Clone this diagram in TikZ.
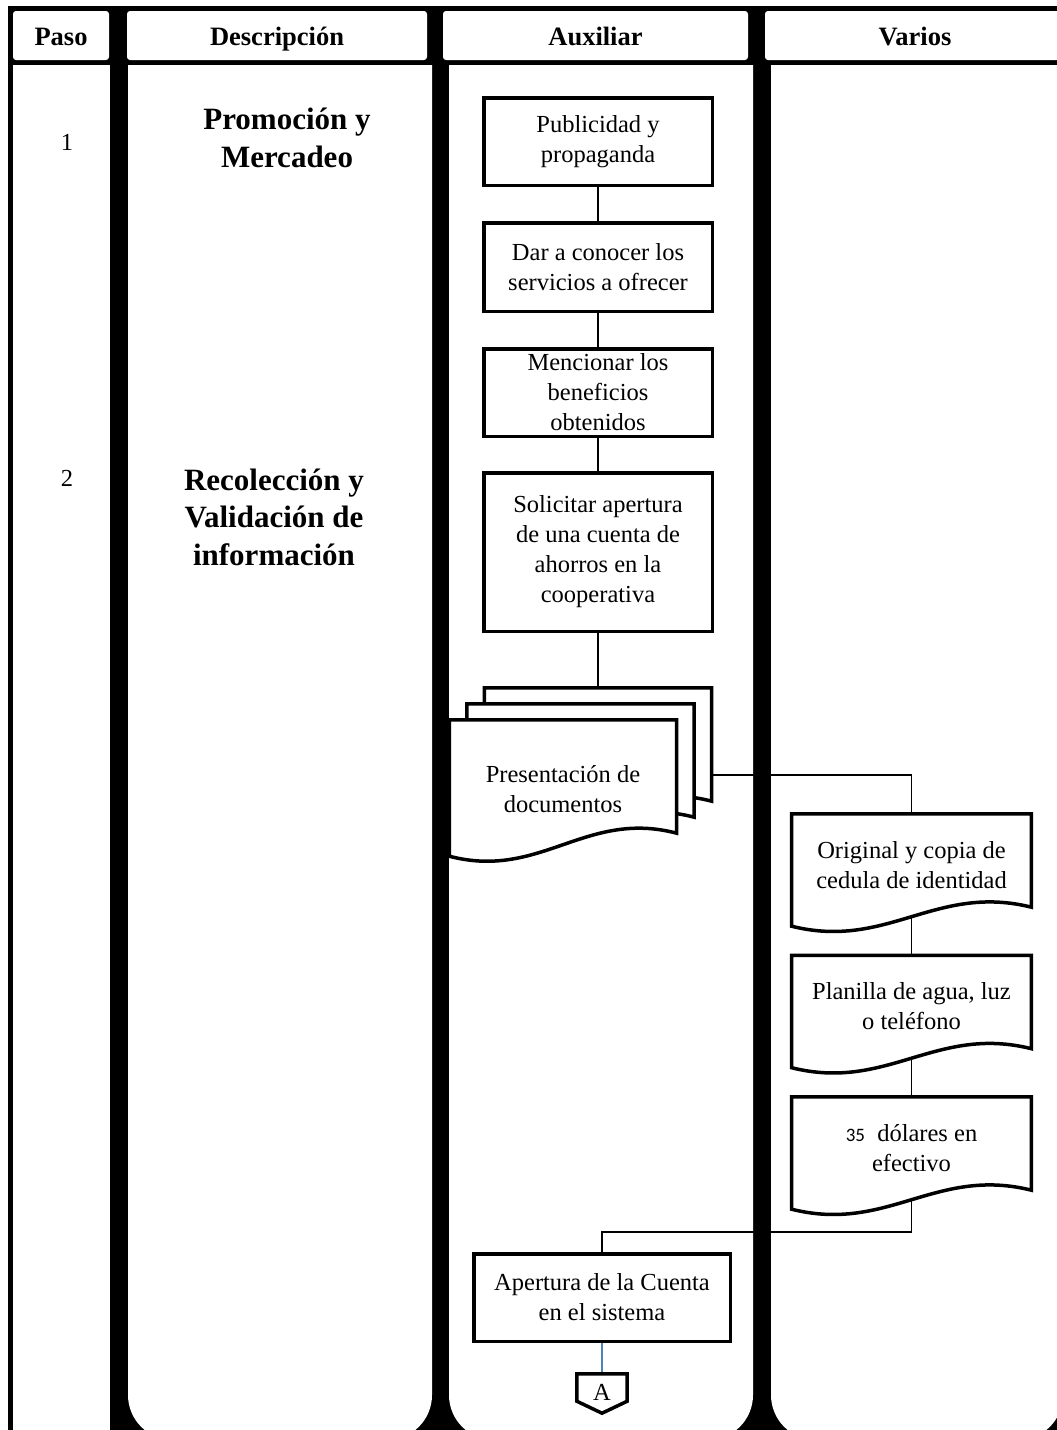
\documentclass[tikz,border=0pt]{standalone}
\usepackage{fontspec}
\setmainfont{Liberation Serif}
\newfontfamily\calibrifont{Carlito}
\usepackage{tikz}
\usetikzlibrary{
  calc,
  positioning
}
\definecolor{linkBlue}{HTML}{4F81BD}

\pgfdeclarelayer{lanes}
\pgfdeclarelayer{edges}
\pgfdeclarelayer{shapes}
\pgfsetlayers{lanes,edges,shapes,main}

% document outline around a node: #2 node, #3 rise of right end, #4 drop of left end
\newcommand{\docwave}[4][]{%
  \begin{pgfonlayer}{shapes}
    \draw[docline,#1] (#2.north west) -- (#2.north east) -- ($(#2.south east)+(0,-#3)$)
      .. controls ($(#2.south east)!0.4!(#2.south west)+(0,-#3-24)$)
      and ($(#2.south east)!0.6!(#2.south west)+(0,#4+24)$) .. ($(#2.south west)+(0,#4)$) -- cycle;
  \end{pgfonlayer}}

\tikzset{
  lanehead/.style={fill=white, rounded corners=3pt, minimum height=49pt, inner sep=0pt,
    text height=21pt, text depth=2pt, font=\bfseries\fontsize{26.5}{30}\selectfont},
  stepnum/.style={font=\fontsize{24.5}{30}\selectfont},
  stage/.style={align=center, inner sep=0pt, font=\bfseries\fontsize{31}{37.5}\selectfont},
  procbox/.style={draw, line width=3.5pt, fill=white, align=center, inner sep=0pt,
    minimum width=228.5pt, font=\fontsize{24.5}{30}\selectfont},
  docnode/.style={align=center, inner sep=0pt, minimum width=239.5pt, minimum height=102pt,
    font=\fontsize{24.5}{30}\selectfont},
  docline/.style={line width=3.5pt, fill=white},
  offpage/.style={minimum width=50pt, minimum height=27pt, inner sep=0pt, text height=26pt,
    font=\fontsize{24.5}{30}\selectfont},
  conn/.style={line width=1.2pt}
}

\begin{document}
\begin{tikzpicture}[x=1pt, y=-1pt]
  \useasboundingbox (0,0) rectangle (1057,1430);

  % lanes
  \begin{pgfonlayer}{lanes}
    \clip (0,0) rectangle (1057,1430);
    \fill[black] (8,6) rectangle (1057,1430);
    \fill[white] (13,65) rectangle (110,1430);
    \begin{scope}
      \clip (0,65) rectangle (1070,1430);
      \foreach \xa/\xb in {128/432, 449/753, 771/1063}
        \fill[white, rounded corners=45pt] (\xa,20) rectangle (\xb,1440);
    \end{scope}
  \end{pgfonlayer}

  \foreach \x/\w/\nm/\txt in {13/96/paso/Paso, 127/300/desc/Descripción, 443/305/aux/Auxiliar, 765/300/var/Varios}{
    \node[lanehead, minimum width={\w pt}] (h-\nm) at (\x+\w/2, 35.5) {\txt};
  }

  % paso / descripcion
  \node[stepnum] (n1) at (67,142) {1};
  \node[stepnum] (n2) at (67,478) {2};
  \node[stage] (s1) at (287,138) {Promoción y\\Mercadeo};
  \node[stage] (s2) at (274,517) {Recolección y\\Validación de\\información};

  % auxiliar
  \node[procbox, minimum height=87.5pt] (pub) at (598,141.5) {Publicidad y\\propaganda};
  \node[procbox, minimum height=88.5pt] (dar) at (598,267) {Dar a conocer los\\servicios a ofrecer};
  \node[procbox, minimum height=87.5pt] (men) at (598,392.5) {Mencionar los\\beneficios\\obtenidos};
  \node[procbox, minimum height=158.5pt] (sol) at (598,552) {Solicitar apertura\\de una cuenta de\\ahorros en la\\cooperativa};

  \node[docnode, minimum width=227pt, minimum height=138pt] (presB) at (598,757) {};
  \docwave{presB}{25}{-2}
  \node[docnode, minimum width=227pt, minimum height=138pt] (presM) at (580.5,773) {};
  \docwave{presM}{25}{-2}
  \node[docnode, minimum width=227pt, minimum height=138pt] (pres) at (563,789) {Presentación de\\documentos};
  \docwave{pres}{25}{-2}

  % varios
  \node[docnode] (orig) at (911.5,865) {Original y copia de\\cedula de identidad};
  \docwave{orig}{9}{10}
  \node[docnode] (plan) at (911.5,1006.5) {Planilla de agua, luz\\o teléfono};
  \docwave{plan}{9}{10}
  \node[docnode] (din) at (911.5,1148) {{\calibrifont\fontsize{19}{30}\selectfont 35}\ \ dólares en\\efectivo};
  \docwave{din}{9}{10}

  \node[procbox, minimum width=256.5pt, minimum height=87.5pt] (aper) at (602,1297.5) {Apertura de la Cuenta\\en el sistema};
  \node[offpage] (offA) at (602,1387.5) {A};
  \begin{pgfonlayer}{shapes}
    \draw[docline] (offA.north west) -- (offA.north east) -- (offA.south east)
      -- ($(offA.south)+(0,12)$) -- (offA.south west) -- cycle;
  \end{pgfonlayer}

  % connectors
  \begin{pgfonlayer}{edges}
    \draw[conn] (pub) -- (dar) (dar) -- (men) (men) -- (sol) (sol) -- (presB);
    \draw[conn] ($(presB.east)+(0,18)$) -| (orig.north);
    \draw[conn] (orig.south) -- (plan.north);
    \draw[conn] (plan.south) -- (din.north);
    \draw[conn] (din.south) |- ($(aper.north)+(0,-20)$) -- (aper.north);
    \draw[conn, linkBlue] (aper) -- (offA);
  \end{pgfonlayer}
\end{tikzpicture}
\end{document}
